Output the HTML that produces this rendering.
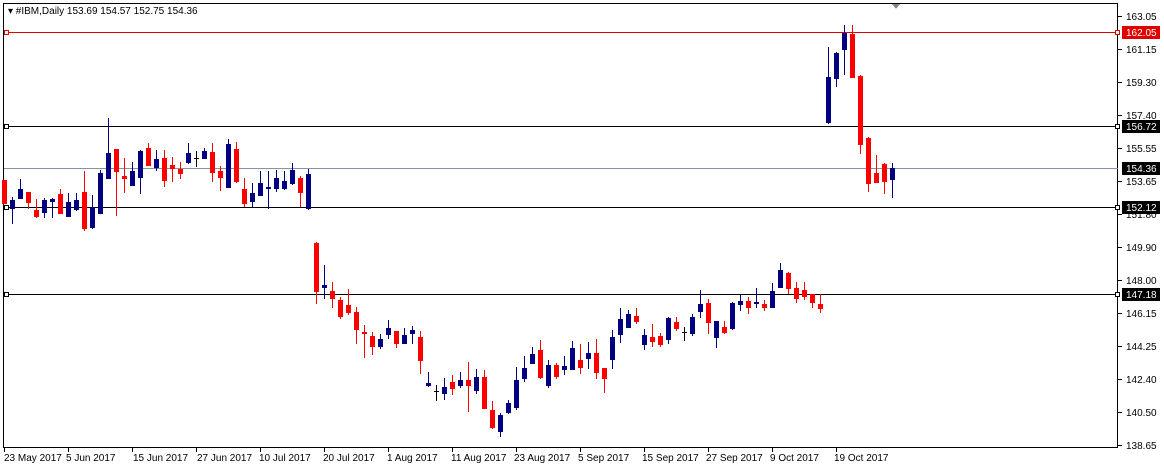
<!DOCTYPE html>
<html><head><meta charset="utf-8"><style>
html,body{margin:0;padding:0;background:#fff;width:1164px;height:469px;overflow:hidden}
svg{display:block;font-family:"Liberation Sans",sans-serif;font-size:10px}
</style></head><body>
<svg id="s" width="1164" height="469" xmlns="http://www.w3.org/2000/svg" shape-rendering="crispEdges">
<rect width="1164" height="469" fill="#fff"/>
<rect x="3.5" y="3.5" width="1114" height="444" fill="none" stroke="#000"/>
<g id="lines">
<line x1="4" x2="1118" y1="32.5" y2="32.5" stroke="#e00000"/>
<line x1="4" x2="1118" y1="126.5" y2="126.5" stroke="#000"/>
<line x1="4" x2="1118" y1="168.5" y2="168.5" stroke="#8494a4"/>
<line x1="4" x2="1118" y1="207.5" y2="207.5" stroke="#000"/>
<line x1="4" x2="1118" y1="294.5" y2="294.5" stroke="#000"/>
<rect x="4.5" y="30.5" width="4" height="4" fill="#fff" stroke="#e00000"/>
<rect x="4.5" y="124.5" width="4" height="4" fill="#fff" stroke="#000"/>
<rect x="4.5" y="205.5" width="4" height="4" fill="#fff" stroke="#000"/>
<rect x="4.5" y="292.5" width="4" height="4" fill="#fff" stroke="#000"/>
<rect x="1115.5" y="30.5" width="4" height="4" fill="#fff" stroke="#e00000"/>
<rect x="1115.5" y="124.5" width="4" height="4" fill="#fff" stroke="#000"/>
<rect x="1115.5" y="205.5" width="4" height="4" fill="#fff" stroke="#000"/>
<rect x="1115.5" y="292.5" width="4" height="4" fill="#fff" stroke="#000"/>
</g>
<g id="c"></g>
<polygon points="892,4 900,4 896,9" fill="#808890"/>
<text x="8" y="14" fill="#000" font-size="10">▾ #IBM,Daily  153.69 154.57 152.75 154.36</text>
<g fill="#000" font-size="10">
<text x="1126" y="20">163.05</text>
<text x="1126" y="53">161.15</text>
<text x="1126" y="86">159.30</text>
<text x="1126" y="119">157.40</text>
<text x="1126" y="152">155.55</text>
<text x="1126" y="185">153.65</text>
<text x="1126" y="218">151.80</text>
<text x="1126" y="251">149.90</text>
<text x="1126" y="284">148.00</text>
<text x="1126" y="317">146.15</text>
<text x="1126" y="350">144.25</text>
<text x="1126" y="383">142.40</text>
<text x="1126" y="416">140.50</text>
<text x="1126" y="449">138.65</text>
</g>
<g stroke="#000">
<line x1="1118" x2="1122" y1="16.5" y2="16.5"/><line x1="1118" x2="1122" y1="49.5" y2="49.5"/>
<line x1="1118" x2="1122" y1="82.5" y2="82.5"/><line x1="1118" x2="1122" y1="115.5" y2="115.5"/>
<line x1="1118" x2="1122" y1="148.5" y2="148.5"/><line x1="1118" x2="1122" y1="181.5" y2="181.5"/>
<line x1="1118" x2="1122" y1="214.5" y2="214.5"/><line x1="1118" x2="1122" y1="247.5" y2="247.5"/>
<line x1="1118" x2="1122" y1="280.5" y2="280.5"/><line x1="1118" x2="1122" y1="313.5" y2="313.5"/>
<line x1="1118" x2="1122" y1="346.5" y2="346.5"/><line x1="1118" x2="1122" y1="379.5" y2="379.5"/>
<line x1="1118" x2="1122" y1="412.5" y2="412.5"/><line x1="1118" x2="1122" y1="445.5" y2="445.5"/>
</g>
<rect x="1122" y="26" width="38" height="13" fill="#e00000"/><text x="1126" y="36" fill="#fff">162.05</text>
<rect x="1122" y="120" width="38" height="13" fill="#000"/><text x="1126" y="130" fill="#fff">156.72</text>
<rect x="1122" y="162" width="38" height="13" fill="#000"/><text x="1126" y="172" fill="#fff">154.36</text>
<rect x="1122" y="201" width="38" height="13" fill="#000"/><text x="1126" y="211" fill="#fff">152.12</text>
<rect x="1122" y="288" width="38" height="13" fill="#000"/><text x="1126" y="298" fill="#fff">147.18</text>
<g fill="#000" font-size="10">
<text x="4" y="461">23 May 2017</text>
<text x="66" y="461">5 Jun 2017</text>
<text x="133" y="461">15 Jun 2017</text>
<text x="197" y="461">27 Jun 2017</text>
<text x="259" y="461">10 Jul 2017</text>
<text x="323" y="461">20 Jul 2017</text>
<text x="387" y="461">1 Aug 2017</text>
<text x="451" y="461">11 Aug 2017</text>
<text x="514" y="461">23 Aug 2017</text>
<text x="578" y="461">5 Sep 2017</text>
<text x="642" y="461">15 Sep 2017</text>
<text x="706" y="461">27 Sep 2017</text>
<text x="770" y="461">9 Oct 2017</text>
<text x="834" y="461">19 Oct 2017</text>
</g>
<g stroke="#000">
<line x1="4.5" x2="4.5" y1="448" y2="452"/><line x1="68.5" x2="68.5" y1="448" y2="452"/>
<line x1="132.5" x2="132.5" y1="448" y2="452"/><line x1="196.5" x2="196.5" y1="448" y2="452"/>
<line x1="260.5" x2="260.5" y1="448" y2="452"/><line x1="324.5" x2="324.5" y1="448" y2="452"/>
<line x1="388.5" x2="388.5" y1="448" y2="452"/><line x1="452.5" x2="452.5" y1="448" y2="452"/>
<line x1="516.5" x2="516.5" y1="448" y2="452"/><line x1="580.5" x2="580.5" y1="448" y2="452"/>
<line x1="644.5" x2="644.5" y1="448" y2="452"/><line x1="708.5" x2="708.5" y1="448" y2="452"/>
<line x1="772.5" x2="772.5" y1="448" y2="452"/><line x1="836.5" x2="836.5" y1="448" y2="452"/>
</g>
</svg>
<script>
var d=[
['r',180,203,180,203],['b',197,223,200,208],['b',179,198,189,198],['r',192,208,192,202],['r',199,217,210,216],
['b',198,217,200,212],['b',198,217,199,201],['r',189,213,194,213],['b',193,215,202,216],['b',193,210,200,209],
['r',171,230,192,228],['b',195,228,207,227],['b',170,213,173,213],['b',118,178,153,178],['r',149,215,149,171],
['r',158,192,176,178],['b',162,185,171,185],['b',150,193,151,177],['r',143,165,148,165],['b',150,170,159,167],
['r',150,186,158,180],['r',157,181,165,168],['r',162,178,169,173],['b',143,163,153,162],['k',151,166,158,158],
['b',148,158,151,158],['r',143,181,152,172],['r',166,190,171,177],['b',139,187,144,187],['r',142,182,149,181],
['r',178,206,189,203],['b',183,207,193,201],['b',171,195,183,195],['b',171,208,187,188],['b',170,191,178,188],
['b',171,189,181,188],['b',163,184,170,183],['r',176,206,178,192],['b',169,209,174,208],
['r',242,303,243,291],['b',265,298,285,287],['r',282,307,291,298],['r',297,318,300,316],['r',289,314,305,312],
['r',307,343,312,329],['r',325,357,332,333],['r',332,354,336,346],['b',334,348,339,346],['b',320,338,328,334],
['r',331,347,331,343],['b',328,343,335,343],['b',326,343,330,333],['r',331,373,337,360],['b',372,386,383,385],
['k',385,400,391,391],['b',378,399,387,393],['r',375,394,382,388],['b',372,387,380,385],['r',362,411,380,385],
['b',369,393,377,390],['r',370,408,377,408],['r',401,428,410,427],['b',413,436,415,431],['b',400,413,403,412],
['b',367,409,380,407],['b',356,381,368,378],['b',347,363,354,363],['r',340,378,350,377],['b',360,387,365,385],
['r',363,378,365,376],['b',356,374,366,369],['b',341,369,348,369],['r',344,373,360,367],['b',342,368,353,358],
['r',339,378,353,372],['r',368,392,368,378],['b',330,368,337,359],['b',308,342,319,334],['b',310,327,314,327],
['r',308,323,316,321],['b',329,349,335,344],['r',324,346,337,341],['r',333,346,336,344],['b',317,343,318,339],
['r',317,330,322,328],['k',327,340,332,332],['b',314,335,317,333],['b',290,317,304,311],['r',299,333,303,322],
['b',321,347,321,337],['r',321,333,327,332],['b',302,329,303,328],['b',294,310,301,304],['r',297,313,301,307],
['b',288,307,302,303],['r',300,310,304,307],['b',283,307,291,307],['b',263,287,270,287],['r',272,293,273,288],
['r',282,302,288,298],['r',282,299,290,296],['r',294,307,294,302],['r',294,312,304,308],
['b',47,123,77,122],['b',52,86,53,78],['b',25,74,33,49],['r',25,77,34,77],['r',75,153,76,144],
['r',137,191,138,183],['r',155,182,173,182],['r',163,193,164,181],['b',163,197,168,179]
];
var col={r:'#ff0000',b:'#000080',k:'#000000'},h='';
d.forEach(function(c,i){var x=4+8*i,f=col[c[0]];
h+='<rect x="'+x+'" y="'+c[1]+'" width="1" height="'+(c[2]-c[1]+1)+'" fill="'+f+'"/>';
var bh=c[4]-c[3]+1; if(bh<2)bh=2; if(c[0]=='k'){h+='<rect x="'+(x-2)+'" y="'+c[3]+'" width="5" height="1" fill="#000"/>';}
else h+='<rect x="'+(x-2)+'" y="'+c[3]+'" width="5" height="'+bh+'" fill="'+f+'"/>';});
document.getElementById('c').innerHTML=h;
</script>
</body></html>
